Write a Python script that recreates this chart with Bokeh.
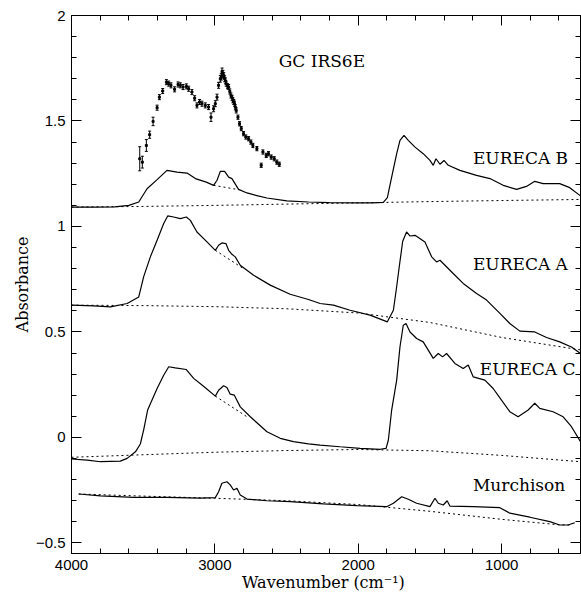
from bokeh.plotting import figure
from bokeh.models import (Range1d, SingleIntervalTicker, LinearAxis, Label, Whisker, ColumnDataSource, TeeHead,
                          CustomJSTickFormatter)
from bokeh.embed import file_html
from bokeh.resources import INLINE

# ---- data ----
eureca_b_x = [4000, 3850, 3700, 3600, 3531, 3473, 3403, 3334, 3264, 3194, 3136, 3060, 3009, 2985, 2962, 2932, 2904,
              2881, 2835, 2776, 2700, 2637, 2498, 2347, 2200, 2000, 1900, 1825, 1797, 1767, 1732, 1709, 1681, 1651,
              1604, 1547, 1500, 1477, 1458, 1430, 1402, 1372, 1291, 1175, 1082, 989, 896, 827, 769, 711, 595, 525, 450]
eureca_b_y = [1.092, 1.092, 1.093, 1.100, 1.116, 1.179, 1.222, 1.266, 1.258, 1.253, 1.227, 1.210, 1.195, 1.219, 1.261,
              1.261, 1.234, 1.227, 1.176, 1.159, 1.145, 1.135, 1.121, 1.116, 1.113, 1.112, 1.112, 1.114, 1.137, 1.234,
              1.345, 1.408, 1.432, 1.408, 1.376, 1.345, 1.313, 1.290, 1.321, 1.295, 1.313, 1.290, 1.266, 1.242, 1.227,
              1.195, 1.176, 1.190, 1.214, 1.203, 1.203, 1.184, 1.145]

eureca_a_x = [4000, 3845, 3728, 3612, 3531, 3497, 3450, 3403, 3357, 3329, 3288, 3241, 3199, 3171, 3125, 3055, 2997,
              2974, 2951, 2923, 2904, 2881, 2858, 2823, 2730, 2614, 2475, 2347, 2266, 2173, 2057, 1918, 1797, 1755,
              1735, 1712, 1690, 1663, 1640, 1604, 1535, 1488, 1454, 1430, 1338, 1268, 1175, 1105, 1012, 943, 873, 769,
              687, 595, 513, 450]
eureca_a_y = [0.627, 0.624, 0.619, 0.635, 0.666, 0.761, 0.856, 0.935, 1.014, 1.050, 1.045, 1.037, 1.045, 1.029, 0.974,
              0.927, 0.887, 0.911, 0.922, 0.919, 0.887, 0.868, 0.856, 0.816, 0.769, 0.722, 0.679, 0.654, 0.635, 0.627,
              0.603, 0.580, 0.548, 0.603, 0.700, 0.820, 0.930, 0.974, 0.955, 0.958, 0.927, 0.856, 0.832, 0.840, 0.777,
              0.730, 0.682, 0.651, 0.588, 0.540, 0.504, 0.500, 0.474, 0.453, 0.429, 0.398]

eureca_c_x = [4000, 3891, 3798, 3659, 3612, 3554, 3520, 3497, 3469, 3403, 3357, 3322, 3276, 3199, 3148, 3079, 2997,
              2974, 2939, 2916, 2893, 2865, 2823, 2753, 2637, 2544, 2452, 2347, 2266, 2127, 1987, 1848, 1806, 1790,
              1767, 1732, 1709, 1686, 1667, 1639, 1593, 1547, 1512, 1477, 1442, 1412, 1384, 1326, 1268, 1233, 1198,
              1117, 1059, 1001, 943, 885, 815, 769, 734, 641, 571, 513, 450]
eureca_c_y = [-0.102, -0.107, -0.115, -0.112, -0.099, -0.068, -0.031, 0.035, 0.130, 0.232, 0.295, 0.335, 0.330, 0.322,
              0.280, 0.243, 0.196, 0.224, 0.245, 0.237, 0.205, 0.201, 0.145, 0.098, 0.027, -0.004, -0.020, -0.030,
              -0.036, -0.044, -0.052, -0.056, -0.052, -0.012, 0.130, 0.272, 0.430, 0.532, 0.540, 0.500, 0.469, 0.453,
              0.414, 0.375, 0.398, 0.382, 0.398, 0.351, 0.327, 0.343, 0.287, 0.272, 0.232, 0.177, 0.122, 0.098, 0.130,
              0.162, 0.138, 0.122, 0.098, 0.051, -0.020]

murch_x = [3950, 3798, 3566, 3334, 3102, 2997, 2974, 2951, 2916, 2893, 2870, 2846, 2823, 2776, 2637, 2475, 2243, 2010,
           1802, 1755, 1697, 1651, 1593, 1500, 1465, 1442, 1407, 1380, 1361, 1198, 1012, 943, 803, 664, 595, 537, 490]
murch_y = [-0.268, -0.277, -0.284, -0.284, -0.288, -0.285, -0.257, -0.217, -0.210, -0.225, -0.249, -0.241, -0.273,
           -0.292, -0.300, -0.304, -0.315, -0.323, -0.328, -0.312, -0.281, -0.293, -0.312, -0.328, -0.288, -0.312,
           -0.320, -0.300, -0.325, -0.328, -0.333, -0.359, -0.378, -0.399, -0.415, -0.415, -0.404]

base_x = [4000, 3500, 3000, 2500, 2000, 1500, 1000, 450]
base_b = [1.092, 1.095, 1.100, 1.106, 1.112, 1.118, 1.123, 1.128]
base_a = [0.627, 0.625, 0.620, 0.610, 0.590, 0.545, 0.474, 0.415]
base_c = [-0.094, -0.082, -0.070, -0.062, -0.057, -0.063, -0.085, -0.115]
base_m_x = [3950, 3500, 3000, 2500, 2000, 1500, 1000, 600, 520]
base_m = [-0.268, -0.278, -0.288, -0.300, -0.318, -0.350, -0.388, -0.414, -0.415]

ch_b_x, ch_b_y = [3009, 2830], [1.195, 1.174]
ch_a_x, ch_a_y = [2997, 2800], [0.887, 0.800]
ch_c_x, ch_c_y = [2997, 2776], [0.196, 0.098]

gc_x = [3524, 3506, 3478, 3455, 3431, 3403, 3387, 3364, 3338, 3322, 3306, 3281, 3257, 3241, 3222, 3199, 3183, 3160,
        3141, 3125, 3107, 3090, 3067, 3044, 3027, 3009, 2997, 2985, 2974, 2962, 2955, 2950, 2944, 2938, 2932, 2926,
        2921, 2912, 2904, 2896, 2888, 2880, 2874, 2868, 2863, 2857, 2851, 2839, 2828, 2816, 2800, 2784, 2765, 2749,
        2735, 2707, 2677, 2665, 2642, 2626, 2607, 2586, 2568, 2551]
gc_y = [1.321, 1.305, 1.384, 1.435, 1.498, 1.563, 1.613, 1.642, 1.684, 1.677, 1.669, 1.650, 1.673, 1.669, 1.661, 1.664,
        1.653, 1.637, 1.608, 1.574, 1.590, 1.582, 1.574, 1.566, 1.518, 1.558, 1.582, 1.613, 1.669, 1.700, 1.710,
        1.735, 1.724, 1.715, 1.700, 1.690, 1.677, 1.665, 1.661, 1.640, 1.621, 1.610, 1.598, 1.590, 1.582, 1.565,
        1.550, 1.518, 1.487, 1.464, 1.440, 1.424, 1.416, 1.400, 1.384, 1.369, 1.290, 1.353, 1.337, 1.345, 1.329,
        1.321, 1.305, 1.295]
gc_err = [0.057, 0.028, 0.028, 0.017, 0.020, 0.012, 0.012, 0.012, 0.012, 0.012, 0.012, 0.012, 0.012, 0.012, 0.012,
          0.012, 0.012, 0.012, 0.012, 0.012, 0.012, 0.012, 0.012, 0.012, 0.020, 0.014, 0.014, 0.014, 0.014, 0.016,
          0.016, 0.016, 0.016, 0.014, 0.014, 0.014, 0.012, 0.012, 0.012, 0.012, 0.012, 0.012, 0.012, 0.012, 0.012,
          0.012, 0.012, 0.010, 0.010, 0.010, 0.010, 0.010, 0.010, 0.010, 0.010, 0.010, 0.010, 0.010, 0.010, 0.010,
          0.010, 0.010, 0.010, 0.010]

labels = ["GC IRS6E", "EURECA B", "EURECA A", "EURECA C", "Murchison"]
label_x = [2555, 1200, 1200, 1152, 1200]
label_y = [1.782, 1.323, 0.823, 0.326, -0.225]

x_label = "Wavenumber  (cm\u207b\u00b9)"
y_label = "Absorbance"

# ---- figure ----
SERIF = "DejaVu Serif"
SANS = "Liberation Sans"

p = figure(width=581, height=594, x_range=Range1d(4000, 450), y_range=Range1d(-0.55, 2),
           output_backend="svg", toolbar_location=None,
           min_border_left=71, min_border_top=15, min_border_right=1, min_border_bottom=41,
           x_axis_label=x_label, y_axis_label=y_label)
p.grid.visible = False
p.outline_line_color = "black"
p.background_fill_color = "white"
p.border_fill_color = "white"

def style_axis(ax, ticker, show_labels):
    ax.ticker = ticker
    ax.axis_line_color = "black"
    ax.major_tick_in = 10
    ax.major_tick_out = 0
    ax.minor_tick_in = 5
    ax.minor_tick_out = 0
    ax.major_tick_line_color = "black"
    ax.minor_tick_line_color = "black"
    if show_labels:
        ax.major_label_text_font = SANS
        ax.major_label_text_font_size = "15px"
        ax.major_label_text_color = "black"
    else:
        ax.formatter = CustomJSTickFormatter(code="return ''")
        ax.major_label_standoff = 0

xt = SingleIntervalTicker(interval=1000, num_minor_ticks=5)
yt = SingleIntervalTicker(interval=0.5, num_minor_ticks=5)

style_axis(p.xaxis[0], xt, True)
style_axis(p.yaxis[0], yt, True)
p.xaxis[0].major_label_standoff = 6
p.yaxis[0].major_label_standoff = 6
p.xaxis[0].axis_label_standoff = 0
p.yaxis[0].axis_label_standoff = 1
for ax in (p.xaxis[0], p.yaxis[0]):
    ax.axis_label_text_font = SERIF
    ax.axis_label_text_font_size = "16px"
    ax.axis_label_text_font_style = "normal"
    ax.axis_label_text_color = "black"

top = LinearAxis()
style_axis(top, SingleIntervalTicker(interval=1000, num_minor_ticks=5), False)
p.add_layout(top, "above")
right = LinearAxis()
style_axis(right, SingleIntervalTicker(interval=0.5, num_minor_ticks=5), False)
p.add_layout(right, "right")

# baselines (dotted)
for bx, by in [(base_x, base_b), (base_x, base_a), (base_x, base_c), (base_m_x, base_m),
               (ch_b_x, ch_b_y), (ch_a_x, ch_a_y), (ch_c_x, ch_c_y)]:
    p.line(bx, by, line_color="black", line_width=1, line_dash="2 3")

# spectra (solid)
for sx, sy in [(eureca_b_x, eureca_b_y), (eureca_a_x, eureca_a_y), (eureca_c_x, eureca_c_y), (murch_x, murch_y)]:
    p.line(sx, sy, line_color="black", line_width=1.2)

# GC IRS6E data with error bars
src = ColumnDataSource(dict(x=gc_x, y=gc_y,
                            lo=[a - e for a, e in zip(gc_y, gc_err)],
                            hi=[a + e for a, e in zip(gc_y, gc_err)]))
p.add_layout(Whisker(source=src, base="x", lower="lo", upper="hi", dimension="height",
                     line_color="black", line_width=1,
                     upper_head=TeeHead(size=3, line_color="black", line_width=1),
                     lower_head=TeeHead(size=3, line_color="black", line_width=1)))
p.scatter("x", "y", source=src, marker="square", size=2, color="black")

for t, lx, ly in zip(labels, label_x, label_y):
    p.add_layout(Label(x=lx, y=ly, text=t, text_font=SERIF, text_font_size="17px",
                       text_baseline="middle", text_align="left", text_color="black"))

open("out.html", "w").write(file_html(p, INLINE))
